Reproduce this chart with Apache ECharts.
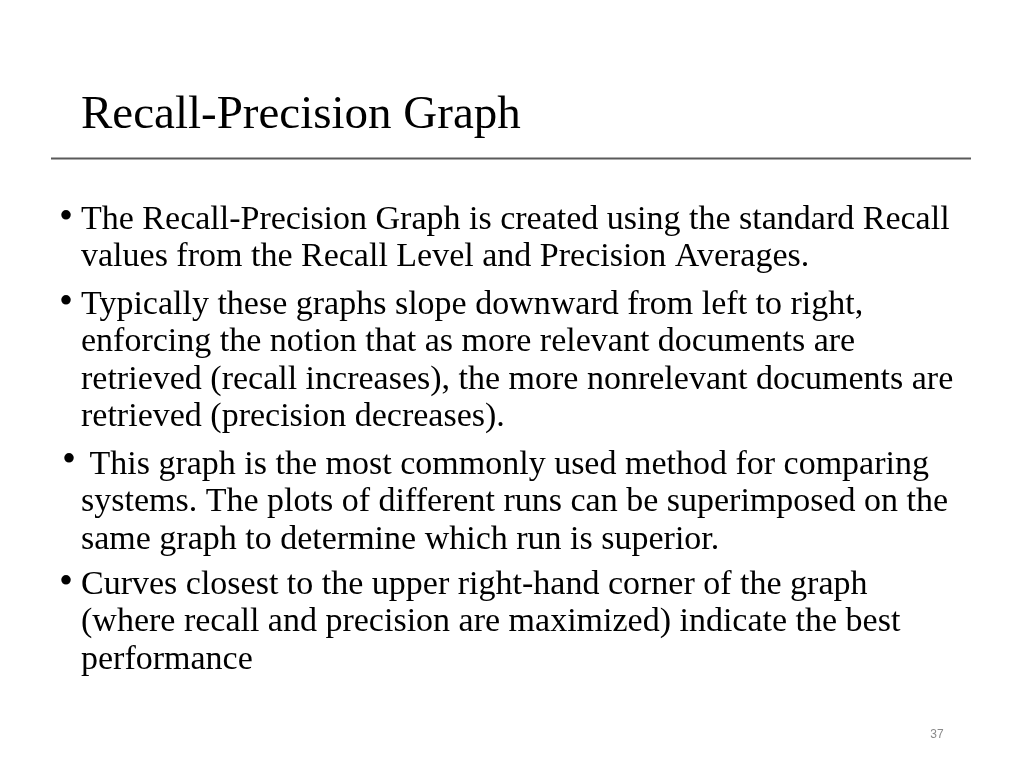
<!DOCTYPE html>
<html>
<head>
<meta charset="utf-8">
<script src="https://cdn.jsdelivr.net/npm/echarts@6/dist/echarts.min.js"></script>
<style>
html,body{margin:0;padding:0;background:#fff;}
#main{width:1024px;height:768px;}
</style>
</head>
<body>
<div id="main"></div>
<script>
var titleText = 'Recall-Precision Graph';
var bulletLines = [
  ['The Recall-Precision Graph is created using the standard Recall',
   'values from the Recall Level and Precision Averages.'],
  ['Typically these graphs slope downward from left to right,',
   'enforcing the notion that as more relevant documents are',
   'retrieved (recall increases), the more nonrelevant documents are',
   'retrieved (precision decreases).'],
  [' This graph is the most commonly used method for comparing',
   'systems. The plots of different runs can be superimposed on the',
   'same graph to determine which run is superior.'],
  ['Curves closest to the upper right-hand corner of the graph',
   '(where recall and precision are maximized) indicate the best',
   'performance']
];
var pageNumber = '37';

var chart = echarts.init(document.getElementById('main'), null, {renderer:'canvas'});
var serif = '"Liberation Serif", "Times New Roman", serif';
var elements = [];
elements.push({type:'text', x:81, y:116, style:{text:titleText, font:'47px ' + serif, fill:'#000', textVerticalAlign:'middle'}});
elements.push({type:'line', shape:{x1:51,y1:158.5,x2:971,y2:158.5}, style:{stroke:'#5a5a5a', lineWidth:2}});
var paraStarts = [220, 305, 465, 585];
var lineGap = 37.3;
var fs = 34;
bulletLines.forEach(function(par, pi){
  var y0 = paraStarts[pi];
  elements.push({type:'text', x: (pi===2 ? 62 : 59), y: y0 - 2 + (pi===2 ? -2 : 0), style:{text:'\u2022', font: '40px ' + serif, fill:'#000', textVerticalAlign:'middle'}});
  par.forEach(function(line, li){
    elements.push({type:'text', x:81, y:y0 + li*lineGap, style:{text:line, font: fs + 'px ' + serif, fill:'#000', textVerticalAlign:'middle'}});
  });
});
elements.push({type:'text', x:937, y:735, style:{text:pageNumber, font:'12px "Liberation Sans", Arial, sans-serif', fill:'#8a8a8a', textAlign:'center', textVerticalAlign:'middle'}});
chart.setOption({animation:false, graphic:{elements:elements}});
</script>
</body>
</html>
